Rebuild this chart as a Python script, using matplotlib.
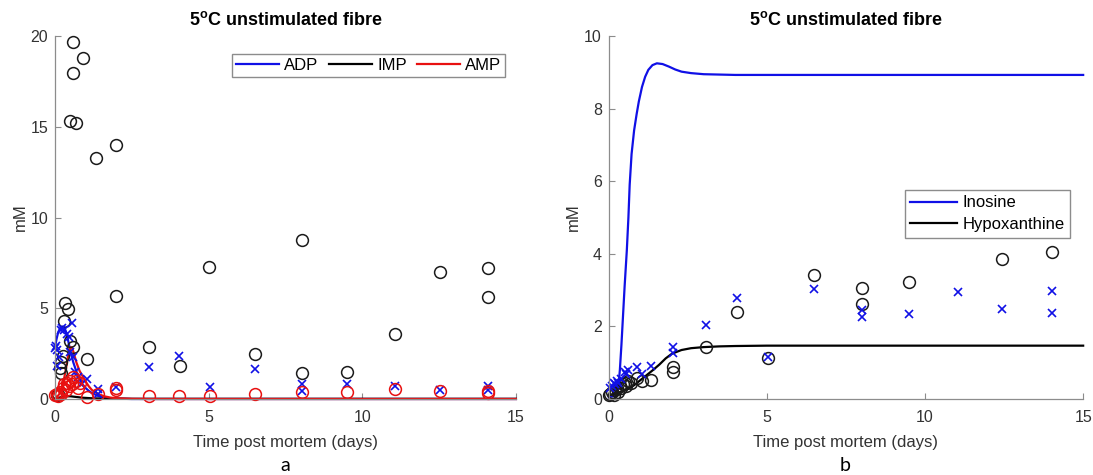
import matplotlib
matplotlib.use('Agg')
import matplotlib.pyplot as plt

plt.rcParams['font.family'] = ['Liberation Sans', 'DejaVu Sans']
plt.rcParams['mathtext.fontset'] = 'custom'
plt.rcParams['mathtext.rm'] = 'Liberation Sans'
plt.rcParams['mathtext.bf'] = 'Liberation Sans:bold'

# ---- panel a: observed data ----
adp_t_obs = [0.0, 0.03, 0.08, 0.05, 0.12, 0.18, 0.22, 0.3, 0.38, 0.45, 0.55, 0.5, 0.6, 0.65, 0.75, 0.85,
             1.04, 1.4, 1.4, 2.0, 3.06, 4.04, 5.05, 6.5, 8.05, 8.05, 9.5, 11.07, 12.54, 14.1, 14.1]
adp_obs = [2.8, 2.9, 2.7, 1.8, 2.3, 3.8, 3.9, 3.8, 3.6, 3.4, 4.2, 2.6, 2.3, 1.5, 1.2, 0.8,
           1.1, 0.55, 0.3, 0.65, 1.76, 2.36, 0.66, 1.65, 0.8, 0.45, 0.8, 0.7, 0.5, 0.7, 0.5]

imp_t_obs = [0.59, 0.91, 0.59, 0.49, 0.68, 1.33, 1.99, 0.33, 0.42, 0.3, 0.49, 0.59, 0.26, 0.2, 0.2, 0.16,
             1.04, 1.99, 3.06, 4.07, 5.02, 6.5, 8.05, 8.05, 9.5, 11.07, 12.54, 14.1, 14.1, 0.05, 0.1]
imp_obs = [19.7, 18.8, 17.95, 15.3, 15.2, 13.3, 14.0, 5.3, 4.95, 4.3, 3.2, 2.87, 2.38, 2.05, 1.43, 1.73,
           2.2, 5.66, 2.86, 1.8, 7.25, 2.47, 8.74, 1.43, 1.48, 3.57, 6.98, 7.2, 5.6, 0.2, 0.3]

amp_t_obs = [0.0, 0.05, 0.1, 0.15, 0.2, 0.25, 0.3, 0.35, 0.4, 0.45, 0.5, 0.55, 0.6, 0.7, 0.75, 0.8,
             1.04, 1.4, 2.0, 2.0, 3.06, 4.04, 5.05, 6.5, 8.05, 9.5, 11.07, 12.54, 14.1, 14.1]
amp_obs = [0.2, 0.3, 0.15, 0.4, 0.3, 0.6, 0.8, 0.5, 0.9, 0.7, 1.0, 0.8, 1.2, 1.0, 0.6, 0.9,
           0.1, 0.3, 0.6, 0.5, 0.15, 0.17, 0.15, 0.27, 0.4, 0.38, 0.55, 0.45, 0.45, 0.35]

# ---- panel a: model curves ----
t_model_a = [0, 0.05, 0.1, 0.15, 0.2, 0.25, 0.3, 0.35, 0.4, 0.45, 0.5, 0.55, 0.6, 0.65, 0.7, 0.8,
             0.9, 1.0, 1.1, 1.2, 1.4, 1.6, 1.8, 2.0, 2.5, 3.0, 15]
adp_model = [2.85, 3.3, 3.65, 3.85, 3.97, 4.0, 3.95, 3.75, 3.45, 3.05, 2.65, 2.3, 2.0, 1.75, 1.5, 1.1,
             0.8, 0.6, 0.45, 0.33, 0.17, 0.08, 0.04, 0.02, 0.0, 0.0, 0.0]
amp_model = [0.05, 0.1, 0.18, 0.3, 0.5, 0.8, 1.15, 1.6, 2.1, 2.6, 2.85, 2.85, 2.6, 2.3, 2.0, 1.55,
             1.25, 0.95, 0.7, 0.5, 0.28, 0.15, 0.08, 0.04, 0.01, 0.0, 0.0]
imp_model = [0.0, 0.02, 0.05, 0.08, 0.1, 0.12, 0.13, 0.14, 0.15, 0.15, 0.15, 0.14, 0.13, 0.12, 0.11, 0.09,
             0.07, 0.06, 0.05, 0.04, 0.03, 0.02, 0.02, 0.02, 0.01, 0.01, 0.01]

# ---- panel b: observed data ----
ino_t_obs = [0.05, 0.1, 0.15, 0.2, 0.25, 0.3, 0.4, 0.5, 0.55, 0.6, 0.89, 1.04, 1.33, 2.03, 2.03,
             3.07, 4.05, 5.03, 6.49, 8.0, 8.0, 9.5, 11.04, 12.44, 14.0, 14.0]
ino_obs = [0.3, 0.35, 0.45, 0.4, 0.5, 0.45, 0.55, 0.75, 0.7, 0.8, 0.88, 0.68, 0.9, 1.43, 1.27,
           2.03, 2.77, 1.15, 3.02, 2.45, 2.26, 2.33, 2.94, 2.47, 2.97, 2.36]

hx_t_obs = [0.0, 0.05, 0.1, 0.15, 0.2, 0.25, 0.3, 0.35, 0.4, 0.45, 0.5, 0.55, 0.6, 0.7, 0.89, 1.04, 1.33,
            2.03, 2.03, 3.07, 4.05, 5.03, 6.49, 8.0, 8.0, 9.5, 12.44, 14.0]
hx_obs = [0.1, 0.15, 0.2, 0.12, 0.25, 0.3, 0.2, 0.35, 0.3, 0.4, 0.45, 0.35, 0.5, 0.45, 0.57, 0.5, 0.52,
          0.88, 0.74, 1.43, 2.39, 1.13, 3.43, 3.05, 2.63, 3.23, 3.85, 4.04]

# ---- panel b: model curves ----
t_ino = [0, 0.25, 0.3, 0.35, 0.4, 0.45, 0.5, 0.57, 0.62, 0.66, 0.72, 0.8, 0.88, 0.95, 1.05, 1.15, 1.25,
         1.38, 1.52, 1.7, 1.9, 2.1, 2.3, 2.6, 3.0, 3.5, 4.0, 5.0, 15]
ino_model = [0.05, 0.1, 0.3, 0.8, 1.5, 2.3, 3.1, 4.1, 5.0, 5.9, 6.75, 7.4, 7.85, 8.2, 8.6, 8.88, 9.07,
             9.2, 9.25, 9.23, 9.16, 9.08, 9.02, 8.98, 8.95, 8.94, 8.93, 8.93, 8.93]
t_hx = [0, 0.2, 0.4, 0.6, 0.8, 1.0, 1.2, 1.4, 1.6, 1.8, 2.0, 2.3, 2.6, 3.0, 3.5, 4.0, 5.0, 6.0, 15]
hx_model = [0.1, 0.15, 0.2, 0.27, 0.38, 0.52, 0.66, 0.8, 0.95, 1.12, 1.25, 1.35, 1.4, 1.43, 1.45, 1.46,
            1.47, 1.47, 1.47]

title = r'5$^{\mathbf{o}}$C unstimulated fibre'


def style_axes(ax, ylim, yticks):
	ax.set_xlim(0, 15)
	ax.set_ylim(*ylim)
	ax.set_xticks([0, 5, 10, 15])
	ax.set_yticks(yticks)
	for s in ['top', 'right']:
		ax.spines[s].set_visible(False)
	for s in ['left', 'bottom']:
		ax.spines[s].set_color('#8c8c8c')
		ax.spines[s].set_linewidth(0.9)
	ax.tick_params(direction='in', length=4, width=0.8, color='#8c8c8c',
	               labelsize=11.5, labelcolor='#333333')
	ax.tick_params(axis='x', pad=8)
	ax.tick_params(axis='y', pad=5)
	ax.set_xlabel('Time post mortem (days)', fontsize=12, color='#333333', labelpad=7)
	ax.set_ylabel('mM', fontsize=12, color='#333333', labelpad=2)
	ax.set_title(title, fontsize=13, fontweight='bold', pad=8)


fig = plt.figure(figsize=(10.93, 4.75), dpi=100)
ax1 = fig.add_axes([0.0503, 0.16, 0.4217, 0.764])
ax2 = fig.add_axes([0.557, 0.16, 0.434, 0.764])

ms_o = 8.5
ms_x = 5.5

# panel a
ax1.plot(t_model_a, adp_model, color='#1010e6', lw=1.6, label='ADP', clip_on=False)
ax1.plot(t_model_a, imp_model, color='k', lw=1.6, label='IMP', clip_on=False)
ax1.plot(t_model_a, amp_model, color='#e81010', lw=1.6, label='AMP', clip_on=False)
ax1.plot(imp_t_obs, imp_obs, 'o', mfc='none', mec='#1a1a1a', ms=ms_o, mew=1.1, clip_on=False)
ax1.plot(adp_t_obs, adp_obs, 'x', color='#1010e6', ms=ms_x, mew=1.2, clip_on=False)
ax1.plot(amp_t_obs, amp_obs, 'o', mfc='none', mec='#e81010', ms=ms_o, mew=1.1, clip_on=False)
style_axes(ax1, (0, 20), [0, 5, 10, 15, 20])
leg1 = ax1.legend(loc='upper right', bbox_to_anchor=(0.995, 0.975), ncol=3, fontsize=12,
                  handlelength=2.6, columnspacing=0.6, handletextpad=0.3, borderpad=0.25,
                  fancybox=False, framealpha=1)
leg1.get_frame().set_edgecolor('#8c8c8c')

# panel b
ax2.plot(t_ino, ino_model, color='#1010e6', lw=1.6, label='Inosine', clip_on=False)
ax2.plot(t_hx, hx_model, color='k', lw=1.6, label='Hypoxanthine', clip_on=False)
ax2.plot(hx_t_obs, hx_obs, 'o', mfc='none', mec='#1a1a1a', ms=ms_o, mew=1.1, clip_on=False)
ax2.plot(ino_t_obs, ino_obs, 'x', color='#1010e6', ms=ms_x, mew=1.2, clip_on=False)
style_axes(ax2, (0, 10), [0, 2, 4, 6, 8, 10])
leg2 = ax2.legend(loc='upper right', bbox_to_anchor=(0.99, 0.6), fontsize=12,
                  handlelength=2.8, handletextpad=0.3, borderpad=0.35, labelspacing=0.4,
                  fancybox=False, framealpha=1)
leg2.get_frame().set_edgecolor('#8c8c8c')

fig.text(0.261, 0.021, 'a', fontsize=14, family='Lato', ha='center', va='center')
fig.text(0.773, 0.021, 'b', fontsize=14, family='Lato', ha='center', va='center')

fig.savefig('out.png', dpi=100)
